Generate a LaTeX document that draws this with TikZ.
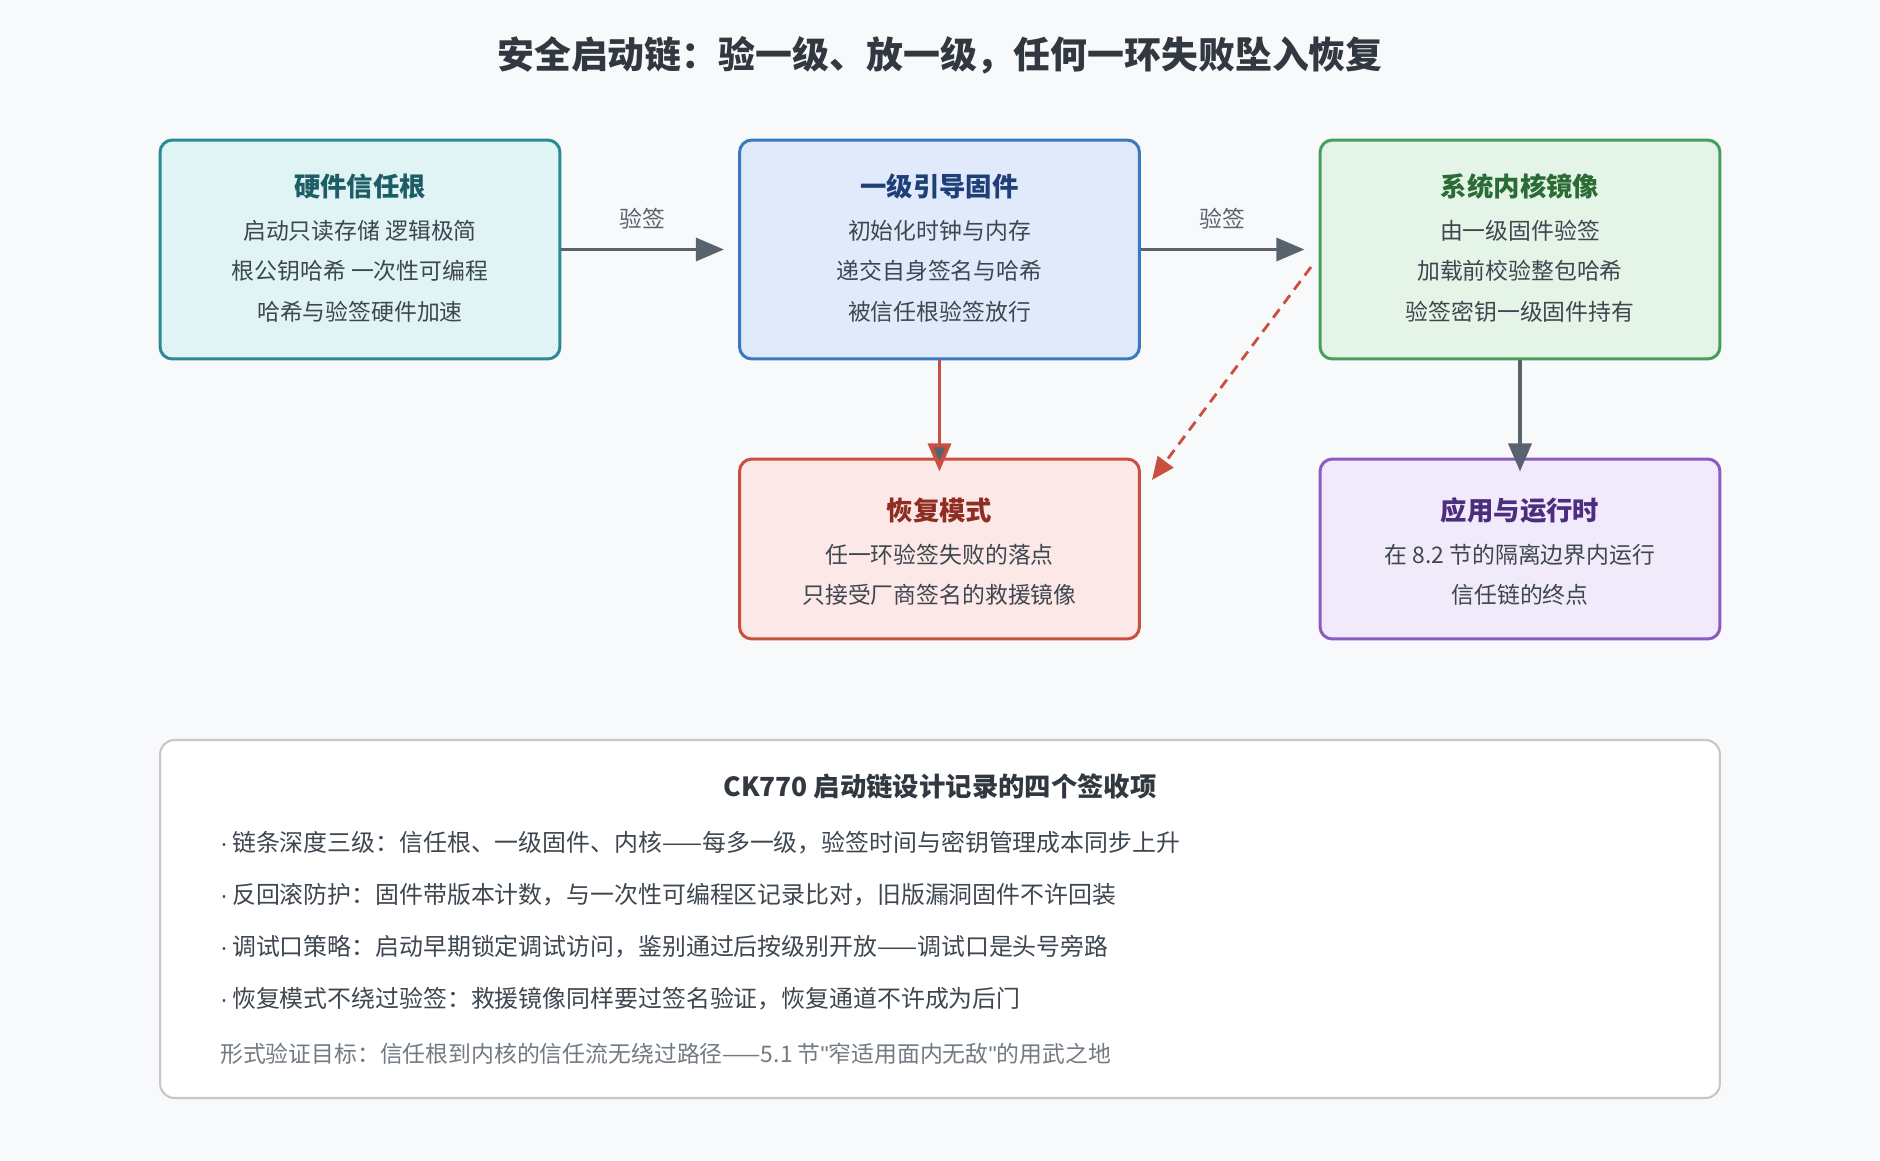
\documentclass[tikz,border=0pt]{standalone}
\usepackage{fontspec}
\setmainfont{Noto Sans CJK SC}
\newfontfamily\latinf{Liberation Sans}
\usetikzlibrary{arrows.meta, positioning}
\definecolor{bgc}{HTML}{F8F9FB}
\definecolor{linec}{HTML}{59636D}
\definecolor{tealb}{HTML}{2A8A95}\definecolor{tealf}{HTML}{E0F4F6}\definecolor{tealt}{HTML}{1D5E66}
\definecolor{blueb}{HTML}{3B78C0}\definecolor{bluef}{HTML}{E0EAFB}\definecolor{bluet}{HTML}{1F3F78}
\definecolor{greenb}{HTML}{4A9E5C}\definecolor{greenf}{HTML}{E4F4E6}\definecolor{greent}{HTML}{2A6B36}
\definecolor{redb}{HTML}{C9503F}\definecolor{redf}{HTML}{FCE8E6}\definecolor{redt}{HTML}{8E2E22}
\definecolor{purpb}{HTML}{8A5CC0}\definecolor{purpf}{HTML}{F0EAFA}\definecolor{purpt}{HTML}{4C2D7E}
\definecolor{bodyc}{HTML}{3E4650}
\newcommand{\bul}{{\latinf ·}\,}
\tikzset{
  box/.style={draw, line width=1.7pt, rounded corners=7pt, minimum width=8cm},
  ttl/.style={font=\fontsize{15}{17}\selectfont\bfseries},
  body/.style={font=\fontsize{13}{15}\selectfont, text=bodyc, align=center},
  flow/.style={-{Triangle[length=16pt,width=13pt]}, line width=2.2pt, draw=linec},
  lbl/.style={font=\fontsize{13}{15}\selectfont, text=linec},
  item/.style={font=\fontsize{13.6}{15}\selectfont, text=bodyc, anchor=west}
}
\begin{document}
\begin{tikzpicture}[x=0.02cm, y=-0.02cm]
    \fill[bgc] (0,0) rectangle (1880,1160);
    \useasboundingbox (0,0) rectangle (1880,1160);
    \node[font=\fontsize{21}{24}\selectfont\bfseries, text=bodyc!80!black] (title) at (940,55) {安全启动链：验一级、放一级，任何一环失败坠入恢复};

    % top row
    \node[box, draw=tealb, fill=tealf, minimum height=4.38cm] (root) at (360,249.5) {};
    \node[box, draw=blueb, fill=bluef, minimum height=4.38cm] (boot) at (939.5,249.5) {};
    \node[box, draw=greenb, fill=greenf, minimum height=4.38cm] (kern) at (1520,249.5) {};
    % bottom row
    \node[box, draw=redb, fill=redf, minimum height=3.6cm] (recov) at (939.5,549) {};
    \node[box, draw=purpb, fill=purpf, minimum height=3.6cm] (app) at (1520,549) {};

    \node[ttl, text=tealt] at (360,186) {硬件信任根};
    \node[body] at (360,271) {启动只读存储 逻辑极简\\[8pt]根公钥哈希 一次性可编程\\[8pt]哈希与验签硬件加速};
    \node[ttl, text=bluet] at (939.5,186) {一级引导固件};
    \node[body] at (939.5,271) {初始化时钟与内存\\[8pt]递交自身签名与哈希\\[8pt]被信任根验签放行};
    \node[ttl, text=greent] at (1520,186) {系统内核镜像};
    \node[body] at (1520,271) {由一级固件验签\\[8pt]加载前校验整包哈希\\[8pt]验签密钥一级固件持有};
    \node[ttl, text=redt] at (939.5,510) {恢复模式};
    \node[body] at (939.5,575) {任一环验签失败的落点\\[8pt]只接受厂商签名的救援镜像};
    \node[ttl, text=purpt] at (1520,510) {应用与运行时};
    \node[body] at (1520,575) {在 8.2 节的隔离边界内运行\\[8pt]信任链的终点};

    % connectors
    \draw[flow] (root.east) -- node[lbl, above=7pt] {验签} ([xshift=-8]boot.west);
    \draw[flow] (boot.east) -- node[lbl, above=7pt] {验签} ([xshift=-8]kern.west);
    \draw[flow, draw=redb, -{Triangle[length=16pt,width=13pt,fill=linec]}] (boot.south) -- ([yshift=-8]recov.north);
    \draw[flow] (kern.south) -- ([yshift=-8]app.north);
    \coordinate (fromk) at (1311,267);
    \coordinate (tor) at (1152,480);
    \draw[-{Triangle[length=13pt,width=11pt]}, redb, line width=1.6pt, dash pattern=on 6pt off 4pt] (fromk) -- (tor);

    % checklist
    \node[draw=black!22, line width=1.2pt, fill=white, rounded corners=8pt, minimum width=31.2cm, minimum height=7.16cm] (notes) at (940,919) {};
    \node[font=\fontsize{15}{17}\selectfont\bfseries, text=bodyc!80!black] (ntitle) at (940,786) {CK770 启动链设计记录的四个签收项};
    \node[item] (n1) at (214,843) {\bul 链条深度三级：信任根、一级固件、内核——每多一级，验签时间与密钥管理成本同步上升};
    \node[item] (n2) at (214,895) {\bul 反回滚防护：固件带版本计数，与一次性可编程区记录比对，旧版漏洞固件不许回装};
    \node[item] (n3) at (214,947) {\bul 调试口策略：启动早期锁定调试访问，鉴别通过后按级别开放——调试口是头号旁路};
    \node[item] (n4) at (214,999) {\bul 恢复模式不绕过验签：救援镜像同样要过签名验证，恢复通道不许成为后门};
    \node[item, text=linec!85, font=\fontsize{13}{15}\selectfont] (n5) at (214,1054) {形式验证目标：信任根到内核的信任流无绕过路径——5.1 节{\latinf "}窄适用面内无敌{\latinf "}的用武之地};
\end{tikzpicture}
\end{document}
